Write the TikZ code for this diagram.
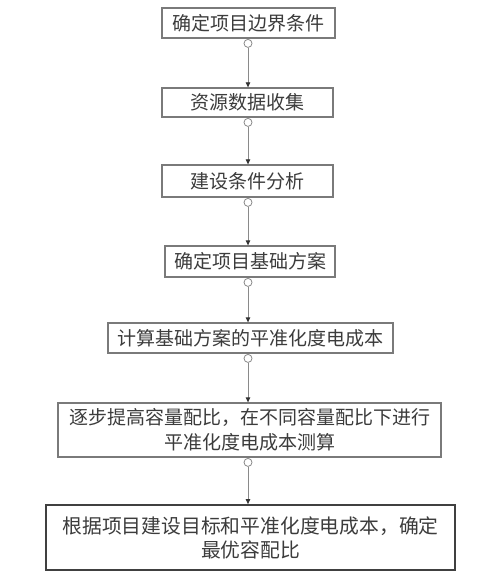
\documentclass[tikz,border=0pt]{standalone}
\usepackage{fontspec}
\newfontfamily\cjk{Noto Sans CJK SC}
\usetikzlibrary{arrows.meta}
\definecolor{boxgray}{HTML}{7A7A7A}
\definecolor{txtgray}{HTML}{3C3C3C}
\definecolor{linegray}{HTML}{8A8A8A}
\tikzset{
  box/.style={draw=boxgray, line width=1.3pt, fill=white, inner sep=0pt,
    font=\cjk\fontsize{19}{25}\selectfont, text=txtgray, align=center},
  lastbox/.style={box, draw=black!75, line width=1.8pt, font=\cjk\fontsize{19.8}{24}\selectfont},
  circ/.style={draw=linegray, line width=0.8pt, fill=white, circle, minimum size=8pt, inner sep=0pt},
  conn/.style={draw=linegray, line width=0.8pt, -{Triangle[length=5pt,width=4.5pt,color=black!80]}},
}
\begin{document}
\begin{tikzpicture}[x=1pt,y=1pt]
\useasboundingbox[fill=white] (0,0) rectangle (480,-577);
\node[box, minimum width=173pt, minimum height=30pt] (b1) at (248.5,-23) {确定项目边界条件};
\node[box, minimum width=171pt, minimum height=29pt] (b2) at (247.5,-102.5) {资源数据收集};
\node[box, minimum width=171pt, minimum height=32pt] (b3) at (247.5,-181) {建设条件分析};
\node[box, minimum width=170pt, minimum height=31pt] (b4) at (250,-261.5) {确定项目基础方案};
\node[box, minimum width=285pt, minimum height=30pt] (b5) at (250.5,-338) {计算基础方案的平准化度电成本};
\node[box, minimum width=383pt, minimum height=54pt] (b6) at (249.5,-430) {逐步提高容量配比，在不同容量配比下进行\\平准化度电成本测算};
\node[lastbox, minimum width=409pt, minimum height=65pt] (b7) at (250.5,-537.5) {根据项目建设目标和平准化度电成本，确定\\最优容配比};
\foreach \a/\b/\y in {b1/b2/-38,b2/b3/-117,b3/b4/-197,b4/b5/-277,b5/b6/-353,b6/b7/-457}{
  \node[circ, anchor=north] (c\a) at (248,\y-1) {};
  \draw[conn] (c\a.south) -- (c\a.south |- \b.north);
}
\end{tikzpicture}
\end{document}
